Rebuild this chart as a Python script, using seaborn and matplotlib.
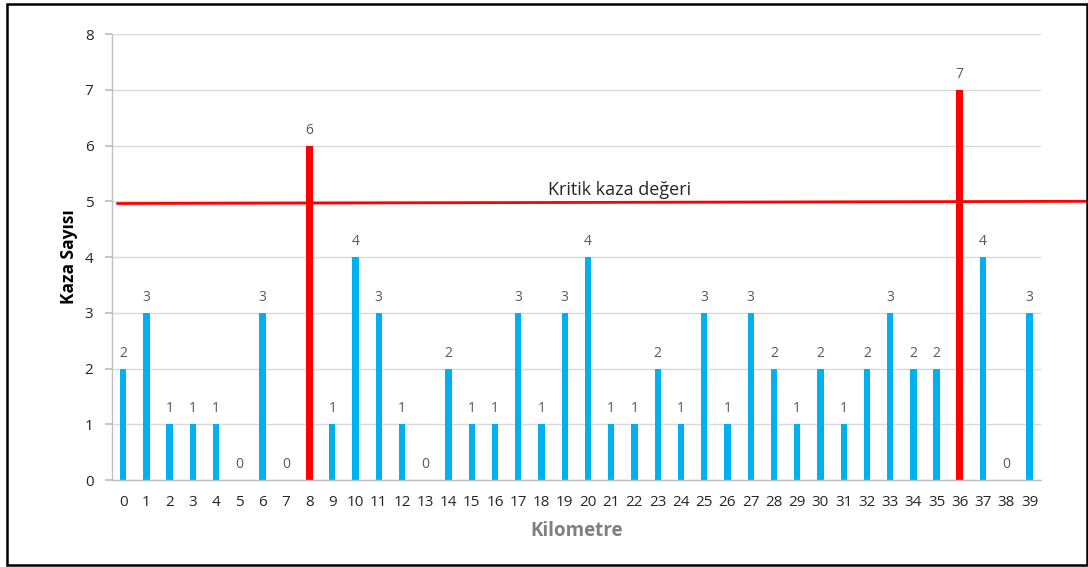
import matplotlib
matplotlib.use("Agg")
import matplotlib.pyplot as plt
import seaborn as sns
import pandas as pd
from matplotlib.patches import Rectangle

km = list(range(40))
kaza = [2, 3, 1, 1, 1, 0, 3, 0, 6, 1, 4, 3, 1, 0, 2, 1, 1, 3, 1, 3,
        4, 1, 1, 2, 1, 3, 1, 3, 2, 1, 2, 1, 2, 3, 2, 2, 7, 4, 0, 3]
kritik_km = [8, 36]
kritik_deger = 5
kritik_label = "Kritik kaza değeri"
x_label = "Kilometre"
y_label = "Kaza Sayısı"

sns.set_theme(style="white")
plt.rcParams['font.family'] = ['Open Sans', 'DejaVu Sans']

BLUE = "#00B0F0"
RED = "#FF0000"
colors = [RED if k in kritik_km else BLUE for k in km]

df = pd.DataFrame({"km": [str(k) for k in km], "kaza": kaza})

fig = plt.figure(figsize=(10.88, 5.67), dpi=100)
ax = fig.add_axes([0.1025, 0.1534, 0.8545, 0.7866])

sns.barplot(data=df, x="km", y="kaza", hue="km", palette=colors,
            legend=False, width=0.27, ax=ax, saturation=1, linewidth=0)

for p, k in zip(ax.patches, km):
    p.set_linewidth(0)
    if k in kritik_km:
        cx = p.get_x() + p.get_width() / 2
        w = 0.30
        p.set_x(cx - w / 2)
        p.set_width(w)

for i, v in enumerate(kaza):
    ax.text(i, v + 0.14, str(v), ha="center", va="bottom",
            fontsize=10, color="#595959")

ax.set_ylim(0, 8)
ax.set_xlim(-0.5, 39.5)
ax.set_yticks(range(0, 9))
ax.yaxis.grid(True, color="#D9D9D9", linewidth=1)
ax.set_axisbelow(True)
for s in ["top", "right"]:
    ax.spines[s].set_visible(False)
for s in ["left", "bottom"]:
    ax.spines[s].set_color("#BFBFBF")
    ax.spines[s].set_linewidth(1)
ax.tick_params(axis="y", length=5, color="#BFBFBF", pad=8, labelsize=11,
               labelcolor="#262626", left=True)
ax.tick_params(axis="x", length=0, pad=11, labelsize=11, labelcolor="#262626")

ax.set_xlabel(x_label, fontsize=13.5, fontweight="bold", color="#7F7F7F", labelpad=8)
ax.set_ylabel(y_label, fontsize=12.5, fontweight="bold", color="black", labelpad=5)

# critical line (extends beyond the plot area to the right)
ax.plot([-0.25, 42], [kritik_deger - 0.04, kritik_deger], color=RED,
        linewidth=2, clip_on=False, zorder=5)
ax.text(21.35, kritik_deger + 0.12, kritik_label, ha="center", va="baseline",
        fontsize=13, color="#262626")

fig.patches.append(Rectangle((6.5 / 1088, 2 / 567), 1080 / 1088, 561 / 567,
                             transform=fig.transFigure, fill=False,
                             edgecolor="black", linewidth=1.8))

fig.savefig("out.png", dpi=100)
